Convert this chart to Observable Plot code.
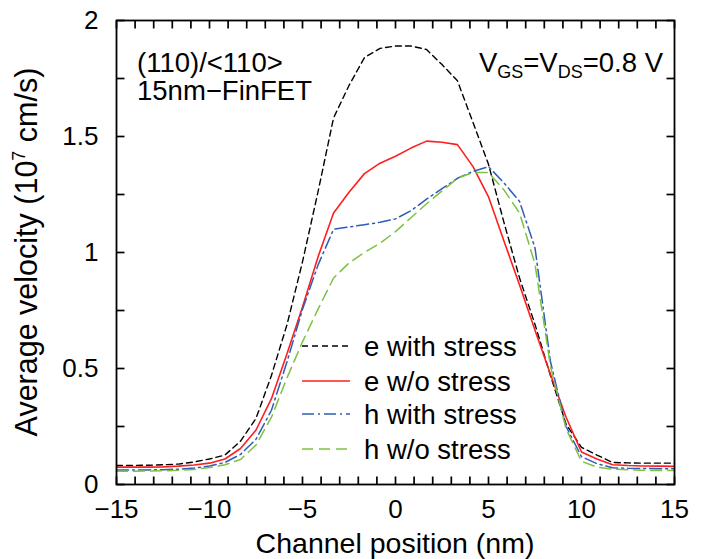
<!DOCTYPE html>
<html>
<head>
<meta charset="utf-8">
<script src="https://cdn.jsdelivr.net/npm/d3@7"></script>
<script src="https://cdn.jsdelivr.net/npm/@observablehq/plot@0.6"></script>
<style>
  html, body { margin: 0; padding: 0; background: #fff; }
  svg { display: block; }
</style>
</head>
<body>
<div id="chart"></div>
<script>
// Channel positions (nm)
const positions = [-15, -14.17, -13.33, -12.5, -11.67, -10.83, -10, -9.17, -8.33, -7.5, -6.67, -5.83, -5, -4.17, -3.33, -2.5, -1.67, -0.83, 0, 0.83, 1.67, 2.5, 3.33, 4.17, 5, 5.83, 6.67, 7.5, 8.33, 9.17, 10, 10.83, 11.67, 12.5, 13.33, 14.17, 15];

// Average velocity (1e7 cm/s)
const eWithStress = [0.082, 0.082, 0.083, 0.085, 0.088, 0.097, 0.11, 0.127, 0.187, 0.285, 0.47, 0.69, 0.96, 1.26, 1.58, 1.72, 1.84, 1.88, 1.89, 1.89, 1.875, 1.81, 1.74, 1.56, 1.38, 1.13, 0.89, 0.69, 0.47, 0.26, 0.16, 0.127, 0.095, 0.093, 0.092, 0.092, 0.092];
const eWithoutStress = [0.075, 0.075, 0.075, 0.076, 0.079, 0.084, 0.092, 0.11, 0.155, 0.235, 0.37, 0.565, 0.765, 0.98, 1.17, 1.26, 1.34, 1.385, 1.415, 1.45, 1.48, 1.475, 1.465, 1.37, 1.24, 1.05, 0.86, 0.665, 0.475, 0.29, 0.14, 0.11, 0.085, 0.082, 0.08, 0.079, 0.078];
const hWithStress = [0.063, 0.063, 0.063, 0.064, 0.066, 0.071, 0.08, 0.095, 0.13, 0.195, 0.32, 0.53, 0.755, 0.945, 1.10, 1.11, 1.12, 1.13, 1.145, 1.18, 1.23, 1.275, 1.32, 1.35, 1.37, 1.30, 1.22, 1.02, 0.53, 0.25, 0.12, 0.09, 0.072, 0.07, 0.069, 0.068, 0.068];
const hWithoutStress = [0.057, 0.057, 0.058, 0.059, 0.061, 0.065, 0.073, 0.085, 0.108, 0.17, 0.29, 0.46, 0.615, 0.755, 0.89, 0.955, 1.0, 1.04, 1.09, 1.15, 1.21, 1.265, 1.32, 1.345, 1.345, 1.27, 1.17, 0.95, 0.51, 0.24, 0.1, 0.075, 0.066, 0.063, 0.061, 0.06, 0.06];

const seriesNames = ["e with stress", "e w/o stress", "h with stress", "h w/o stress"];
const seriesValues = [eWithStress, eWithoutStress, hWithStress, hWithoutStress];
const seriesColors = ["#000000", "#ff1e1e", "#2f5cb5", "#7cc142"];
const seriesDash = ["6,4", "none", "12,4,2,4", "11,6"];
const seriesWidth = [1.4, 1.6, 1.5, 1.5];

const xTickLabels = [-15, -10, -5, 0, 5, 10, 15];
const xMinorTicks = [-15, -14, -13, -12, -11, -10, -9, -8, -7, -6, -5, -4, -3, -2, -1, 0, 1, 2, 3, 4, 5, 6, 7, 8, 9, 10, 11, 12, 13, 14, 15];
const yTickLabels = [0, 0.5, 1, 1.5, 2];
const yMinorTicks = [0, 0.25, 0.5, 0.75, 1, 1.25, 1.5, 1.75, 2];
const xDomain = [-15, 15];
const yDomain = [0, 2];

const xTitle = "Channel position (nm)";
const noteLine1 = "(110)/<110>";
const noteLine2 = "15nm\u2212FinFET";

const W = 710, H = 559;
const mL = 116, mR = 36, mT = 20, mB = 75;
const frameW = W - mL - mR, frameH = H - mT - mB;
const tickLen = 8;
const tickDX = tickLen * (xDomain[1] - xDomain[0]) / frameW;
const tickDY = tickLen * (yDomain[1] - yDomain[0]) / frameH;
const FONT = "'Liberation Sans', Arial, Helvetica, sans-serif";

const rows = [];
seriesNames.forEach((name, i) => {
  positions.forEach((x, j) => rows.push({series: name, x, v: seriesValues[i][j]}));
});

// inward tick segments on all four sides, as two-point paths
const tickSegs = [];
xMinorTicks.forEach((v, k) => {
  tickSegs.push({id: "b" + k, x: v, y: yDomain[0]}, {id: "b" + k, x: v, y: yDomain[0] + tickDY});
  tickSegs.push({id: "t" + k, x: v, y: yDomain[1]}, {id: "t" + k, x: v, y: yDomain[1] - tickDY});
});
yMinorTicks.forEach((v, k) => {
  tickSegs.push({id: "l" + k, x: xDomain[0], y: v}, {id: "l" + k, x: xDomain[0] + tickDX, y: v});
  tickSegs.push({id: "r" + k, x: xDomain[1], y: v}, {id: "r" + k, x: xDomain[1] - tickDX, y: v});
});

const fmt = d => d < 0 ? "\u2212" + Math.abs(d) : String(d);

const lineMarks = seriesNames.map((name, i) =>
  Plot.line(rows.filter(r => r.series === name), {
    x: "x", y: "v",
    stroke: seriesColors[i],
    strokeWidth: seriesWidth[i],
    strokeDasharray: seriesDash[i],
    strokeLinejoin: "miter",
    curve: "linear"
  })
);

const chart = Plot.plot({
  width: W, height: H,
  marginLeft: mL, marginRight: mR, marginTop: mT, marginBottom: mB,
  style: {fontFamily: FONT, fontSize: "26px", color: "#000", background: "#fff", overflow: "visible"},
  x: {domain: xDomain, axis: null},
  y: {domain: yDomain, axis: null},
  marks: [
    ...lineMarks,
    Plot.line(tickSegs, {x: "x", y: "y", z: "id", stroke: "#000", strokeWidth: 1.7, strokeLinecap: "butt"}),
    Plot.frame({stroke: "#000", strokeWidth: 1.8}),
    Plot.axisX(xTickLabels, {tickSize: 0, tickPadding: 15, tickFormat: fmt, fontSize: 26, label: null}),
    Plot.axisY(yTickLabels, {tickSize: 0, tickPadding: 18, tickFormat: fmt, fontSize: 26, label: null})
  ]
});

document.getElementById("chart").appendChild(chart);

const svg = d3.select(chart);
const xInfo = chart.scale("x"), yInfo = chart.scale("y");
const xL = Math.min(...xInfo.range), xR = Math.max(...xInfo.range);
const yT = Math.min(...yInfo.range), yB = Math.max(...yInfo.range);

// Titles, annotations and legend
const xMid = (xL + xR) / 2;
const yMid = (yB + yT) / 2;
const g = svg.append("g").attr("font-family", FONT).attr("fill", "#000").attr("text-anchor", "start");

g.append("text").attr("x", xMid).attr("y", H - 6)
  .attr("text-anchor", "middle").attr("font-size", 28.5).text(xTitle);

const yt = g.append("text")
  .attr("transform", `translate(37,${yMid}) rotate(-90)`)
  .attr("text-anchor", "middle").attr("font-size", 30.5);
yt.append("tspan").text("Average velocity (10");
yt.append("tspan").attr("font-size", 18).attr("dy", -12).text("7");
yt.append("tspan").attr("dy", 12).text(" cm/s)");

g.append("text").attr("x", 137).attr("y", 72).attr("font-size", 27.5).text(noteLine1);
g.append("text").attr("x", 137).attr("y", 100).attr("font-size", 27.5).text(noteLine2);

const vt = g.append("text").attr("x", 663).attr("y", 72)
  .attr("text-anchor", "end").attr("font-size", 27.5);
vt.append("tspan").text("V");
vt.append("tspan").attr("font-size", 18).attr("dy", 6).text("GS");
vt.append("tspan").attr("dy", -6).text("=V");
vt.append("tspan").attr("font-size", 18).attr("dy", 6).text("DS");
vt.append("tspan").attr("dy", -6).text("=0.8 V");

const legendRowsY = [346, 381, 414, 449];
seriesNames.forEach((name, i) => {
  const y = legendRowsY[i];
  g.append("line").attr("x1", 302).attr("x2", 350).attr("y1", y).attr("y2", y)
    .attr("stroke", seriesColors[i]).attr("stroke-width", seriesWidth[i])
    .attr("stroke-dasharray", seriesDash[i]);
  g.append("text").attr("x", 364).attr("y", y + 10).attr("font-size", 27.5).text(name);
});
</script>
</body>
</html>
